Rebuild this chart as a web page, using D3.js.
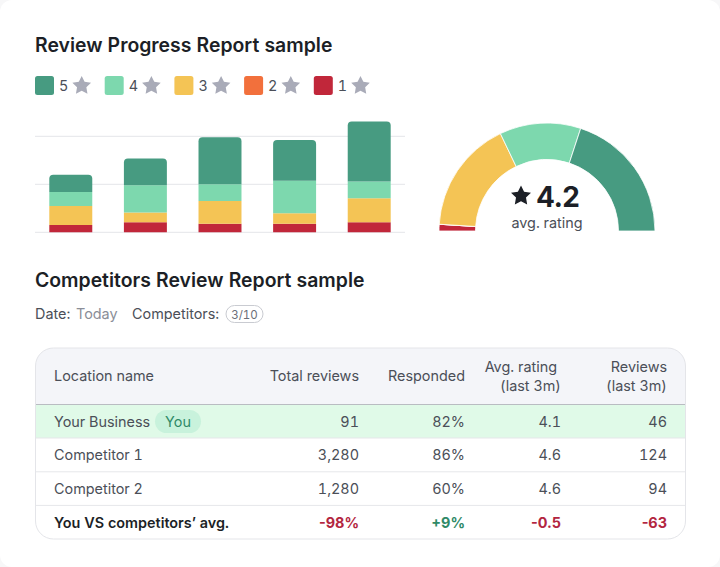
<!DOCTYPE html>
<html lang="en">
  <head>
    <meta charset="UTF-8" />
    <title>Review Report sample</title>
    <style>
      html, body { margin: 0; padding: 0; background: #fff; }
      svg { display: block; }
      text { font-family: Inter, "Noto Sans", sans-serif; font-variant-numeric: tabular-nums; }
    </style>
    <script src="https://d3js.org/d3.v7.min.js"></script>
  </head>
  <body>
    <div id="chart"></div>
    <script>
      // stacked bars (gridlines are 10 units apart)
      const periods = ["P1", "P2", "P3", "P4", "P5"];
      const stars = [5, 4, 3, 2, 1];
      const colors = ["#479b81", "#7dd8ae", "#f4c455", "#f2703c", "#c1273a"];
      const fiveStar = [3.6, 5.6, 9.8, 8.5, 12.5];
      const fourStar = [2.9, 5.7, 3.5, 6.8, 3.5];
      const threeStar = [4.0, 2.0, 4.7, 2.15, 5.0];
      const twoStar = [0, 0, 0, 0, 0];
      const oneStar = [1.5, 2.1, 1.8, 1.8, 2.1];
      const gridTicks = [0, 10, 20];

      // gauge shares in the order red, orange, yellow, light green, green
      const gaugeStars = [1, 2, 3, 4, 5];
      const gaugeShares = [2, 0, 33.8, 24.3, 39.9];

      const tableHeader = [
        ["Location name"],
        ["Total reviews"],
        ["Responded"],
        ["Avg. rating", "(last 3m)"],
        ["Reviews", "(last 3m)"],
      ];
      const rowNames = ["Your Business", "Competitor 1", "Competitor 2", "You VS competitors’ avg."];
      const totalReviews = ["91", "3,280", "1,280", "-98%"];
      const responded = ["82%", "86%", "60%", "+9%"];
      const avgRating = ["4.1", "4.6", "4.6", "-0.5"];
      const reviews3m = ["46", "124", "94", "-63"];

      const width = 720;
      const height = 567;
      const ink = "#1c1f26";
      const body = "#4b4f58";
      const fontSize = 14.4;

      // five point star, fatter than d3.symbolStar
      const starPoints = (R) =>
        d3.range(10).map((i) => {
          const a = (i * Math.PI) / 5;
          const rad = i % 2 ? R * 0.5 : R;
          return [a, rad];
        });
      const starPath = (R) => d3.lineRadial().curve(d3.curveLinearClosed)(starPoints(R));

      const svg = d3
        .select("#chart")
        .append("svg")
        .attr("width", width)
        .attr("height", height);

      // page card
      svg.append("rect").attr("width", width).attr("height", height).attr("fill", "#f7f7f8");
      svg
        .append("rect")
        .attr("x", 0)
        .attr("y", 0)
        .attr("width", width)
        .attr("height", height)
        .attr("rx", 12)
        .attr("fill", "#fff");

      const title = (txt, y) =>
        svg
          .append("text")
          .attr("x", 35)
          .attr("y", y)
          .attr("font-size", 19.4)
          .attr("font-weight", 600)
          .attr("fill", ink)
          .text(txt);

      title("Review Progress Report sample", 52);
      title("Competitors Review Report sample", 287);

      // legend
      const legend = svg
        .selectAll(".legend")
        .data(stars)
        .enter()
        .append("g")
        .attr("class", "legend")
        .attr("transform", (d, i) => `translate(${35 + i * 69.7},76)`);
      legend
        .append("rect")
        .attr("width", 19)
        .attr("height", 19)
        .attr("rx", 2.5)
        .attr("fill", (d, i) => colors[i]);
      legend
        .append("text")
        .attr("x", 24)
        .attr("y", 15)
        .attr("font-size", fontSize)
        .attr("fill", body)
        .text((d) => d);
      legend
        .append("path")
        .attr("transform", "translate(46.7,9.8)")
        .attr("d", starPath(9.8))
        .attr("fill", "#a9abb8");

      // stacked bars
      const x = d3
        .scaleBand()
        .domain(periods)
        .range([49.3, 390.7])
        .paddingInner(0.424)
        .paddingOuter(0);
      const y = d3.scaleLinear().domain([0, 20]).range([232.3, 136.3]);

      svg
        .selectAll(".grid")
        .data(gridTicks)
        .enter()
        .append("line")
        .attr("class", "grid")
        .attr("x1", 35)
        .attr("x2", 405)
        .attr("y1", (d) => y(d))
        .attr("y2", (d) => y(d))
        .attr("stroke", "#e4e5e9")
        .attr("stroke-width", 1);

      const barRows = periods.map((p, i) => ({
        period: p,
        5: fiveStar[i],
        4: fourStar[i],
        3: threeStar[i],
        2: twoStar[i],
        1: oneStar[i],
      }));
      const series = d3.stack().keys([1, 2, 3, 4, 5])(barRows);

      series.forEach((s) => {
        const fill = colors[stars.indexOf(+s.key)];
        svg
          .append("g")
          .selectAll("path")
          .data(s)
          .enter()
          .append("path")
          .attr("fill", fill)
          .attr("d", (d) => {
            const bx = x(d.data.period);
            const bw = x.bandwidth();
            const top = y(d[1]);
            const bottom = y(d[0]);
            if (+s.key !== 5) return `M${bx},${bottom}H${bx + bw}V${top}H${bx}Z`;
            const r = 4;
            return (
              `M${bx},${bottom}H${bx + bw}V${top + r}` +
              `Q${bx + bw},${top} ${bx + bw - r},${top}H${bx + r}` +
              `Q${bx},${top} ${bx},${top + r}Z`
            );
          });
      });

      // gauge
      const gauge = svg.append("g").attr("transform", "translate(547,231)");
      const pie = d3
        .pie()
        .sort(null)
        .startAngle(-Math.PI / 2)
        .endAngle(Math.PI / 2);
      const arc = d3.arc().innerRadius(71.5).outerRadius(108);
      gauge
        .selectAll("path")
        .data(pie(gaugeShares))
        .enter()
        .append("path")
        .attr("d", arc)
        .attr("fill", (d, i) => colors[stars.indexOf(gaugeStars[i])])
        .attr("stroke", "#fff")
        .attr("stroke-width", 0.8);
      gauge
        .append("path")
        .attr("transform", "translate(-26,-35)")
        .attr("d", starPath(10.5))
        .attr("fill", ink);
      gauge
        .append("text")
        .attr("x", -10.5)
        .attr("y", -24)
        .attr("font-size", 28)
        .attr("font-weight", 700)
        .attr("fill", ink)
        .text("4.2");
      gauge
        .append("text")
        .attr("x", 0)
        .attr("y", -3)
        .attr("text-anchor", "middle")
        .attr("font-size", fontSize)
        .attr("fill", body)
        .text("avg. rating");

      // filters line
      const meta = (txt, px, fill) =>
        svg
          .append("text")
          .attr("x", px)
          .attr("y", 319)
          .attr("font-size", fontSize)
          .attr("fill", fill)
          .text(txt);
      meta("Date:", 35, body);
      meta("Today", 76, "#8b8e98");
      meta("Competitors:", 132, body);
      svg
        .append("rect")
        .attr("x", 226)
        .attr("y", 305.5)
        .attr("width", 37)
        .attr("height", 17)
        .attr("rx", 8.5)
        .attr("fill", "#fff")
        .attr("stroke", "#c9cbd1");
      svg
        .append("text")
        .attr("x", 244.5)
        .attr("y", 318.5)
        .attr("text-anchor", "middle")
        .attr("font-size", 11.5)
        .attr("fill", "#6b6e78")
        .text("3/10");

      // table
      const tx = 35.5;
      const tw = 650;
      const rowY = [404.5, 438, 471.8, 505.4, 539];
      const colRight = [null, 359, 465, 561, 667];

      const clip = svg.append("clipPath").attr("id", "tableClip");
      clip
        .append("rect")
        .attr("x", tx)
        .attr("y", 348)
        .attr("width", tw)
        .attr("height", 191)
        .attr("rx", 18);

      const table = svg.append("g").attr("clip-path", "url(#tableClip)");
      table
        .append("rect")
        .attr("x", tx)
        .attr("y", 348)
        .attr("width", tw)
        .attr("height", rowY[0] - 348)
        .attr("fill", "#f4f5f9");
      table
        .append("rect")
        .attr("x", tx)
        .attr("y", rowY[0])
        .attr("width", tw)
        .attr("height", rowY[1] - rowY[0])
        .attr("fill", "#e0fae8");

      table
        .selectAll(".rowline")
        .data(rowY.slice(1, 4))
        .enter()
        .append("line")
        .attr("class", "rowline")
        .attr("x1", tx)
        .attr("x2", tx + tw)
        .attr("y1", (d) => d)
        .attr("y2", (d) => d)
        .attr("stroke", "#e6e7ea");
      table
        .append("line")
        .attr("x1", tx)
        .attr("x2", tx + tw)
        .attr("y1", rowY[0])
        .attr("y2", rowY[0])
        .attr("stroke", "#b9bcc2");

      svg
        .append("rect")
        .attr("x", tx)
        .attr("y", 348)
        .attr("width", tw)
        .attr("height", 191)
        .attr("rx", 18)
        .attr("fill", "none")
        .attr("stroke", "#e4e5e9");

      // header cells
      tableHeader.forEach((lines, c) => {
        lines.forEach((line, l) => {
          // the "Avg. rating" line sits a little left of its column edge
          const right = line === "Avg. rating" ? 557 : colRight[c];
          svg
            .append("text")
            .attr("x", c === 0 ? 54 : right)
            .attr("y", lines.length === 1 ? 381 : 372 + l * 19)
            .attr("text-anchor", c === 0 ? "start" : "end")
            .attr("font-size", fontSize)
            .attr("fill", body)
            .text(line);
        });
      });

      // body cells
      const columns = [totalReviews, responded, avgRating, reviews3m];
      const lastRow = rowNames.length - 1;
      const deltaColor = (v) => (v.startsWith("+") ? "#2f8a68" : "#b3263f");

      rowNames.forEach((name, r) => {
        const base = (rowY[r] + rowY[r + 1]) / 2 + 5.5;
        svg
          .append("text")
          .attr("x", 54)
          .attr("y", base)
          .attr("font-size", fontSize)
          .attr("font-weight", r === lastRow ? 600 : 400)
          .attr("fill", r === lastRow ? ink : body)
          .text(name);
        columns.forEach((col, c) => {
          svg
            .append("text")
            .attr("x", colRight[c + 1])
            .attr("y", base)
            .attr("text-anchor", "end")
            .attr("font-size", fontSize)
            .attr("font-weight", r === lastRow ? 700 : 400)
            .style("font-variant-numeric", r === lastRow ? "normal" : null)
            .attr("fill", r === lastRow ? deltaColor(col[r]) : body)
            .text(col[r]);
        });
      });

      // "You" pill
      svg
        .append("rect")
        .attr("x", 155)
        .attr("y", 410)
        .attr("width", 46)
        .attr("height", 23)
        .attr("rx", 11.5)
        .attr("fill", "#c8f2dc");
      svg
        .append("text")
        .attr("x", 178)
        .attr("y", 427)
        .attr("text-anchor", "middle")
        .attr("font-size", fontSize)
        .attr("fill", "#2f8a68")
        .text("You");
    </script>
  </body>
</html>
